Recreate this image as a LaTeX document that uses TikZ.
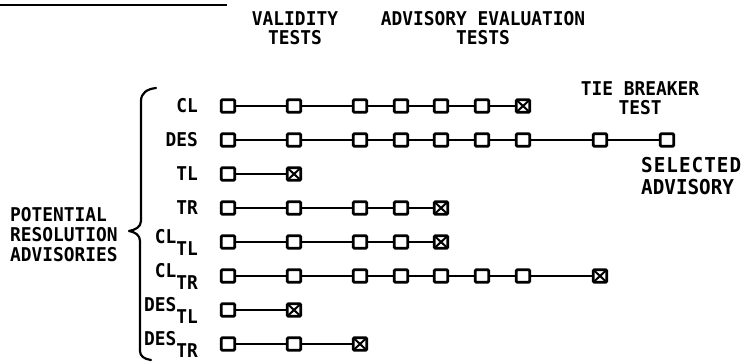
\documentclass[tikz,border=0pt]{standalone}
\usepackage{fontspec}
\newfontfamily\lblfont[FakeStretch=0.94]{DejaVu Sans Mono}
\begin{document}
\begin{tikzpicture}[x=1pt,y=1pt,
  box/.style={draw, line width=2.8pt, rounded corners=1.2pt, minimum width=13.5pt, minimum height=12.5pt, inner sep=0pt},
  xbox/.style={box, path picture={\draw[line width=2pt] (path picture bounding box.north west) -- (path picture bounding box.south east) (path picture bounding box.north east) -- (path picture bounding box.south west);}},
  link/.style={line width=1.7pt},
  txt/.style={inner sep=0pt, font=\lblfont\bfseries\fontsize{19}{19.5}\selectfont},
  bigtxt/.style={inner sep=0pt, font=\lblfont\bfseries\fontsize{20.5}{22}\selectfont},
  brace/.style={line width=2.2pt, line cap=round, line join=round}]
\useasboundingbox (0,0) rectangle (744,-362);

% top rule
\draw[line width=2.2pt] (0,-5) -- (227,-5);

% headings
\node[txt, align=center, anchor=north] (valid) at (295,-11) {VALIDITY\\TESTS};
\node[txt, align=center, anchor=north] (adveval) at (483,-11) {ADVISORY EVALUATION\\TESTS};
\node[txt, align=center, anchor=north] (tie) at (640,-81) {TIE BREAKER\\TEST};
\node[bigtxt, align=left, anchor=north west] (sel) at (641,-157) {{\addfontfeature{LetterSpace=5}SELECTED}\\ADVISORY};
\node[txt, align=left, anchor=north west, font=\lblfont\bfseries\fontsize{19}{20}\selectfont] (pra) at (10,-207) {POTENTIAL\\RESOLUTION\\ADVISORIES};

% row labels
\node[txt, anchor=east] (l1) at (198,-106) {CL};
\node[txt, anchor=east] (l2) at (198,-140) {DES};
\node[txt, anchor=east] (l3) at (198,-174) {TL};
\node[txt, anchor=east] (l4) at (198,-208) {TR};
\node[txt, anchor=east] (l5) at (198,-242) {CL\raisebox{-12pt}{TL}};
\node[txt, anchor=east] (l6) at (198,-276) {CL\raisebox{-12pt}{TR}};
\node[txt, anchor=east] (l7) at (198,-310) {DES\raisebox{-12pt}{TL}};
\node[txt, anchor=east] (l8) at (198,-344) {DES\raisebox{-12pt}{TR}};

% brace
\draw[brace] (156,-88) .. controls (147,-89) and (141,-93) .. (141,-101) -- (141,-221)
  .. controls (141,-227) and (135,-230) .. (129,-231)
  .. controls (135,-232) and (140,-235) .. (140,-241) -- (140,-351)
  .. controls (140,-356) and (144,-359) .. (151,-360);

% rows of tests
\foreach \r/\y/\n/\ls in {1/106/7/xbox, 2/140/9/box, 3/174/2/xbox, 4/208/5/xbox, 5/242/5/xbox, 6/276/8/xbox, 7/310/2/xbox, 8/344/3/xbox} {
  \foreach \k in {1,...,\n} {
    \pgfmathsetmacro\xx{{228,294,360,401,441,482,523,600,667}[\k-1]}
    \ifnum\k=\n\relax \edef\st{\ls}\else \edef\st{box}\fi
    \node[\st] (r\r c\k) at (\xx,-\y) {};
    \ifnum\k>1\relax
      \pgfmathtruncatemacro\pk{\k-1}
      \draw[link] (r\r c\pk) -- (r\r c\k);
    \fi
  }
}
\end{tikzpicture}
\end{document}
